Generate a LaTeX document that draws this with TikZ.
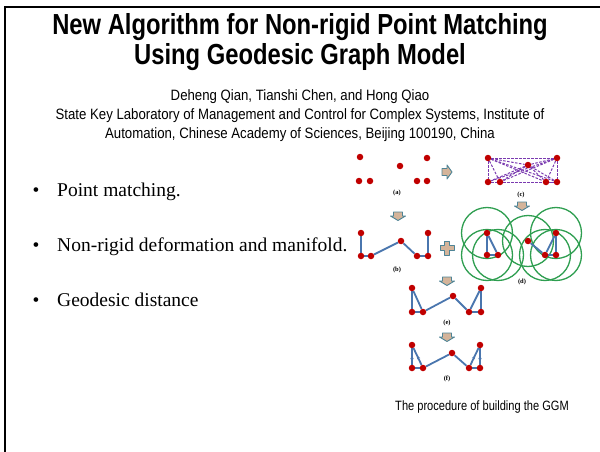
\documentclass[tikz,border=0pt]{standalone}
\usepackage{fontspec}
\setmainfont{Liberation Serif}
\newfontfamily\narrowsans[FakeStretch=0.82]{Liberation Sans}
\newfontfamily\authorsans[FakeStretch=0.88]{Liberation Sans}
\usetikzlibrary{decorations.markings,arrows.meta}

\definecolor{dotred}{HTML}{C00000}
\definecolor{edgeblue}{HTML}{4A76AE}
\definecolor{meshpurple}{HTML}{7A3AB0}
\definecolor{ballgreen}{HTML}{2E9E50}
\definecolor{arrowfill}{HTML}{D4B49A}
\definecolor{arrowline}{HTML}{4E8496}

\pgfdeclarelayer{back}
\pgfsetlayers{back,main}

\tikzset{
  titletext/.style={font=\narrowsans\bfseries\fontsize{29}{31}\selectfont, inner sep=0},
  authortext/.style={font=\authorsans\fontsize{15}{17}\selectfont, inner sep=0},
  itemtext/.style={font=\fontsize{19.5}{22}\selectfont, inner sep=0},
  captiontext/.style={font=\narrowsans\fontsize{13.5}{15}\selectfont, inner sep=0},
  steplabel/.style={font=\bfseries\fontsize{6.5}{7}\selectfont, inner sep=0},
  pt/.style={circle, fill=dotred, inner sep=0, minimum size=6.5},
  edge/.style={draw=edgeblue, line width=1.8},
  mesh/.style={draw=meshpurple, line width=1, dashed, dash pattern=on 2.5 off 1.5},
  ball/.style={draw=ballgreen, line width=1.3},
  diredge/.style={edge, postaction={decorate}, decoration={markings,
      mark=at position 0.55 with {\arrow[edgeblue]{Stealth[length=3.5,width=3.5]}}}},
  arrowshape/.style={fill=arrowfill, draw=arrowline, line width=0.9, line join=round},
  downblock/.pic={\path[arrowshape] (-4.5,-4) -- (4.5,-4) -- (4.5,0) -- (7.5,0)
      -- (0,4.5) -- (-7.5,0) -- (-4.5,0) -- cycle;},
  rightblock/.pic={\path[arrowshape] (-5,-3.5) -- (0,-3.5) -- (0,-7) -- (5,0)
      -- (0,7) -- (0,3.5) -- (-5,3.5) -- cycle;},
  plusblock/.pic={\path[arrowshape] (-2.2,-7) -- (2.2,-7) -- (2.2,-2.2) -- (7,-2.2)
      -- (7,2.2) -- (2.2,2.2) -- (2.2,7) -- (-2.2,7) -- (-2.2,2.2) -- (-7,2.2)
      -- (-7,-2.2) -- (-2.2,-2.2) -- cycle;},
}

\begin{document}
\begin{tikzpicture}[x=1pt, y=-1pt]
\useasboundingbox (0,0) rectangle (600,452);

% slide frame
\draw[line width=2] (5,452) -- (5,7) -- (600,7);

% title and authors
\node[titletext, anchor=base] (title1) at (300,35) {New Algorithm for Non-rigid Point Matching};
\node[titletext, anchor=base] (title2) at (300,65) {Using Geodesic Graph Model};
\node[authortext, anchor=base] (auth) at (300,100) {Deheng Qian, Tianshi Chen, and Hong Qiao};
\node[authortext, anchor=base] (aff1) at (300,119) {State Key Laboratory of Management and Control for Complex Systems, Institute of};
\node[authortext, anchor=base] (aff2) at (300,138) {Automation, Chinese Academy of Sciences, Beijing 100190, China};

% bullet list
\node[itemtext, anchor=base] (b1) at (36,196) {\textbullet};
\node[itemtext, anchor=base west] (i1) at (57,196) {Point matching.};
\node[itemtext, anchor=base] (b2) at (36,251) {\textbullet};
\node[itemtext, anchor=base west] (i2) at (57,251) {Non-rigid deformation and manifold.};
\node[itemtext, anchor=base] (b3) at (36,306) {\textbullet};
\node[itemtext, anchor=base west] (i3) at (57,306) {Geodesic distance};

% (a) raw point set
\node[pt] (a1) at (360,157) {};
\node[pt] (a2) at (400,166) {};
\node[pt] (a3) at (427,158) {};
\node[pt] (a4) at (359,181) {};
\node[pt] (a5) at (370,181) {};
\node[pt] (a6) at (417,181) {};
\node[pt] (a7) at (427,181) {};
\node[steplabel] (la) at (397,193) {(a)};

% (c) complete graph
\node[pt] (c1) at (488,158) {};
\node[pt] (c2) at (528,165) {};
\node[pt] (c3) at (557,158) {};
\node[pt] (c4) at (488,182) {};
\node[pt] (c5) at (500,182) {};
\node[pt] (c6) at (546,182) {};
\node[pt] (c7) at (557,182) {};
\node[steplabel] (lc) at (521,195) {(c)};
\begin{pgfonlayer}{back}
  \foreach \u/\v in {c1/c2,c1/c3,c1/c4,c1/c5,c1/c6,c1/c7,c2/c3,c2/c4,c2/c5,c2/c6,
                     c2/c7,c3/c4,c3/c5,c3/c6,c3/c7,c4/c5,c4/c6,c4/c7,c5/c6,c5/c7,c6/c7}
    \draw[mesh] (\u) -- (\v);
\end{pgfonlayer}

% (b) chain through neighbours
\node[pt] (p1) at (361,233) {};
\node[pt] (p2) at (361,256) {};
\node[pt] (p3) at (371,256) {};
\node[pt] (p4) at (401,241) {};
\node[pt] (p5) at (417,256) {};
\node[pt] (p6) at (428,256) {};
\node[pt] (p7) at (428,233) {};
\node[steplabel] (lb) at (397,270) {(b)};
\begin{pgfonlayer}{back}
  \foreach \u/\v in {p1/p2,p2/p3,p3/p4,p4/p5,p5/p6,p6/p7}
    \draw[edge] (\u) -- (\v);
\end{pgfonlayer}

% (d) local neighbourhoods
\node[pt] (d1) at (487,233) {};
\node[pt] (d2) at (487,255) {};
\node[pt] (d3) at (498,255) {};
\node[pt] (d4) at (528,241) {};
\node[pt] (d5) at (545,255) {};
\node[pt] (d6) at (556,255) {};
\node[pt] (d7) at (556,233) {};
\node[steplabel] (ld) at (522,282) {(d)};
\begin{pgfonlayer}{back}
  \foreach \u in {d1,d2,d3,d4,d5,d6,d7}
    \draw[ball] (\u) circle (25.5);
  \foreach \u/\v in {d1/d2,d1/d3,d2/d3,d4/d5,d5/d6,d6/d7,d5/d7}
    \draw[edge] (\u) -- (\v);
\end{pgfonlayer}

% (e) geodesic graph
\node[pt] (e1) at (412,288) {};
\node[pt] (e2) at (412,312) {};
\node[pt] (e3) at (423,312) {};
\node[pt] (e4) at (453,296) {};
\node[pt] (e5) at (469,312) {};
\node[pt] (e6) at (481,312) {};
\node[pt] (e7) at (481,288) {};
\node[steplabel] (le) at (447,323) {(e)};
\begin{pgfonlayer}{back}
  \foreach \u/\v in {e1/e2,e1/e3,e2/e3,e3/e4,e4/e5,e5/e6,e6/e7,e7/e5}
    \draw[edge] (\u) -- (\v);
\end{pgfonlayer}

% (f) directed geodesic graph
\node[pt] (f1) at (412,345) {};
\node[pt] (f2) at (412,368) {};
\node[pt] (f3) at (423,368) {};
\node[pt] (f4) at (452,353) {};
\node[pt] (f5) at (469,368) {};
\node[pt] (f6) at (480,368) {};
\node[pt] (f7) at (480,345) {};
\node[steplabel] (lf) at (447,379) {(f)};
\begin{pgfonlayer}{back}
  \foreach \u/\v in {f2/f3,f3/f4,f4/f5,f5/f6}
    \draw[edge] (\u) -- (\v);
  \foreach \u/\v in {f2/f1,f3/f1,f6/f7,f5/f7}
    \draw[diredge] (\u) -- (\v);
\end{pgfonlayer}

% step arrows
\pic (ar1) at (447,172) {rightblock};
\pic (ar2) at (398,216) {downblock};
\pic (ar3) at (522,206) {downblock};
\pic (ar4) at (447,248) {plusblock};
\pic (ar5) at (447,281) {downblock};
\pic (ar6) at (447,337) {downblock};

% caption
\node[captiontext, anchor=base] (cap) at (482,410) {The procedure of building the GGM};
\end{tikzpicture}
\end{document}
